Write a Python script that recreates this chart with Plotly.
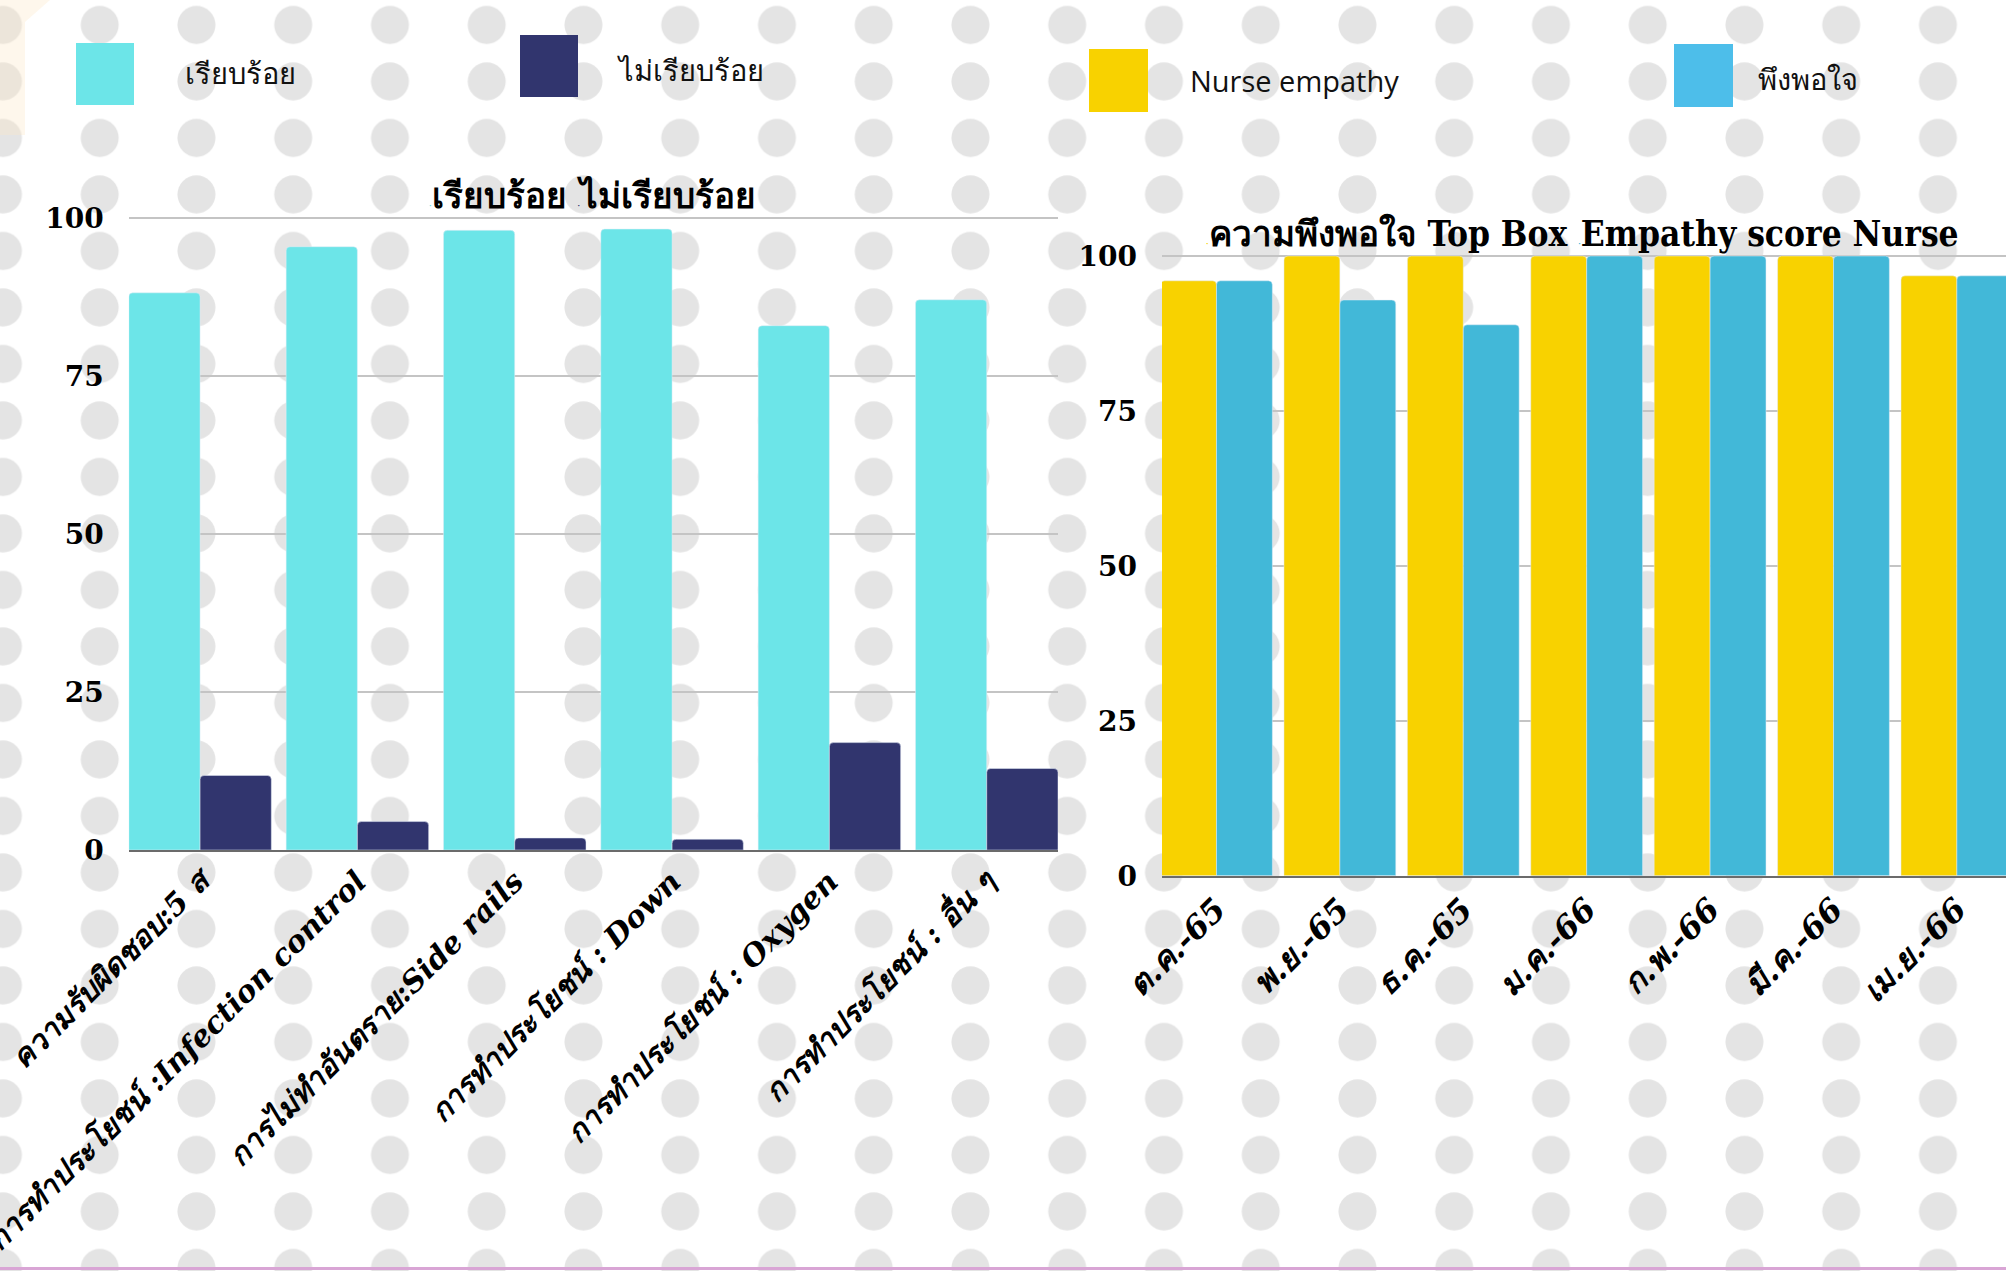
import base64
import plotly.graph_objects as go

W, H = 2006, 1271

# ---------------- data ----------------
left_categories = [
    "ความรับผิดชอบ:5 ส",
    "การทำประโยชน์ :Infection control",
    "การไม่ทำอันตราย:Side rails",
    "การทำประโยชน์ : Down",
    "การทำประโยชน์ : Oxygen",
    "การทำประโยชน์ : อื่น ๆ",
]
left_ok = [88.2, 95.5, 98.1, 98.3, 83.0, 87.1]
left_not_ok = [11.8, 4.5, 1.9, 1.7, 17.0, 12.9]
left_names = ["เรียบร้อย", "ไม่เรียบร้อย"]

months = ["ต.ค.-65", "พ.ย.-65", "ธ.ค.-65", "ม.ค.-66", "ก.พ.-66", "มี.ค.-66", "เม.ย.-66"]
nurse_empathy = [96.0, 100, 100, 100, 100, 100, 96.8]
satisfied = [96.0, 92.9, 88.9, 100, 100, 100, 96.8]
right_names = ["Nurse empathy", "พึงพอใจ"]

y_ticks = [0, 25, 50, 75, 100]

# ---------------- styling ----------------
CYAN = "#6CE5E8"
NAVY = "#31356E"
YELLOW = "#F8D200"
BLUE = "#42B8D8"
BLUE_LEG = "#4DBEEA"

NUM_FONT = dict(family="DejaVu Serif", size=28, color="black", weight="bold")
CAT_FONT_L = dict(family="DejaVu Serif", size=30, color="black", weight="bold", style="italic")
CAT_FONT_R = dict(family="DejaVu Serif", size=32, color="black", weight="bold", style="italic")
LEG_FONT = dict(family="Open Sans", size=29, color="#111111", weight=400)
TITLE_FONT = dict(family="DejaVu Serif Condensed", size=35, color="black", weight="bold")

Y_TOP = 101  # a hair above 100 so the 100 gridline is drawn


def px(x):
    return x / W


def py(y):
    return 1 - y / H


# background polka-dot pattern (decoration)
svg = f"""<svg xmlns='http://www.w3.org/2000/svg' width='{W}' height='{H}' viewBox='0 0 {W} {H}'>
<defs><pattern id='p' patternUnits='userSpaceOnUse' x='-45.4' y='-3.3' width='96.75' height='56.5'>
<circle cx='48.375' cy='28.25' r='19' fill='#E4E4E4'/></pattern></defs>
<rect width='{W}' height='{H}' fill='white'/>
<rect width='{W}' height='{H}' fill='url(#p)'/>
<path d='M0,0 L50,0 L25,22 L25,135 L0,135 Z' fill='#FBE9C8' fill-opacity='0.35'/>
<rect x='0' y='1267' width='{W}' height='3' fill='#D9A5D5'/>
</svg>"""
bg_uri = "data:image/svg+xml;base64," + base64.b64encode(svg.encode("utf-8")).decode("ascii")

fig = go.Figure()

fig.add_trace(go.Bar(x=left_categories, y=left_ok, name=left_names[0], marker_color=CYAN,
                     xaxis="x", yaxis="y", showlegend=False))
fig.add_trace(go.Bar(x=left_categories, y=left_not_ok, name=left_names[1], marker_color=NAVY,
                     xaxis="x", yaxis="y", showlegend=False))
fig.add_trace(go.Bar(x=months, y=nurse_empathy, name=right_names[0], marker_color=YELLOW,
                     xaxis="x2", yaxis="y2", showlegend=False))
fig.add_trace(go.Bar(x=months, y=satisfied, name=right_names[1], marker_color=BLUE,
                     xaxis="x2", yaxis="y2", showlegend=False))

axis_common_y = dict(
    range=[0, Y_TOP], tickvals=y_ticks, ticktext=[str(v) for v in y_ticks],
    showgrid=True, gridcolor="#C4C4C4", gridwidth=1.5, zeroline=False,
    tickfont=NUM_FONT, ticks="", ticklabelstandoff=24, showline=False, automargin=False,
)
axis_common_x = dict(
    type="category", tickangle=-45, showgrid=False, zeroline=False,
    showline=True, linecolor="#6B6B6B", linewidth=2, ticks="", automargin=False,
)

# pixel geometry of plot areas (0 line and 100 line positions)
L_Y0, L_Y100 = 850.0, 218.3
R_Y0, R_Y100 = 875.7, 256.0
l_top = L_Y0 - (L_Y0 - L_Y100) * Y_TOP / 100
r_top = R_Y0 - (R_Y0 - R_Y100) * Y_TOP / 100

fig.update_layout(
    width=W, height=H,
    margin=dict(l=0, r=0, t=0, b=0, autoexpand=False),
    paper_bgcolor="white", plot_bgcolor="rgba(0,0,0,0)",
    barmode="group",
    barcornerradius=4,
    bargap=0.094,
    xaxis=dict(domain=[px(128.8), px(1058)], range=[-0.453, 5.453], anchor="y",
               tickfont=CAT_FONT_L, **axis_common_x),
    yaxis=dict(domain=[py(L_Y0), py(l_top)], anchor="x", **axis_common_y),
    xaxis2=dict(domain=[px(1162), 1.0], range=[-0.4415, 6.398], anchor="y2",
                tickfont=CAT_FONT_R, **axis_common_x),
    yaxis2=dict(domain=[py(R_Y0), py(r_top)], anchor="x2", **axis_common_y),
    images=[dict(source=bg_uri, xref="paper", yref="paper", x=0, y=1, sizex=1, sizey=1,
                 xanchor="left", yanchor="top", sizing="stretch", layer="below")],
)

# legend swatches (decoration)
swatches = [
    (76, 43, 134, 105, CYAN),
    (520, 35, 578, 97, NAVY),
    (1089, 49, 1148, 112, YELLOW),
    (1674, 44, 1733, 107, BLUE_LEG),
]
shapes = []
for x0, y0, x1, y1, c in swatches:
    shapes.append(dict(type="rect", xref="paper", yref="paper", x0=px(x0), x1=px(x1),
                       y0=py(y1), y1=py(y0), fillcolor=c, line=dict(width=0), layer="above"))
fig.update_layout(shapes=shapes)

legend_labels = [
    (183, 73, left_names[0]),
    (615, 70, left_names[1]),
    (1188, 80, right_names[0]),
    (1756, 78, right_names[1]),
]
annotations = []
for x, y, t in legend_labels:
    annotations.append(dict(text=t, x=px(x), y=py(y), xref="paper", yref="paper",
                            xanchor="left", yanchor="middle", showarrow=False, font=LEG_FONT))

left_title = (f"<span style='color:{CYAN};font-size:8px'>·</span>{left_names[0]} "
              f"<span style='color:{NAVY};font-size:8px'>·</span>{left_names[1]}")
right_title = (f"<span style='color:{YELLOW};font-size:8px'>·</span>ความพึงพอใจ Top Box "
               f"<span style='color:{BLUE};font-size:8px'>·</span>Empathy score Nurse")
annotations.append(dict(text=left_title, x=px(592), y=py(196), xref="paper", yref="paper",
                        xanchor="center", yanchor="middle", showarrow=False, font=TITLE_FONT))
annotations.append(dict(text=right_title, x=px(1582), y=py(233), xref="paper", yref="paper",
                        xanchor="center", yanchor="middle", showarrow=False, font=TITLE_FONT))
fig.update_layout(annotations=annotations)

fig.write_html("out.html")
